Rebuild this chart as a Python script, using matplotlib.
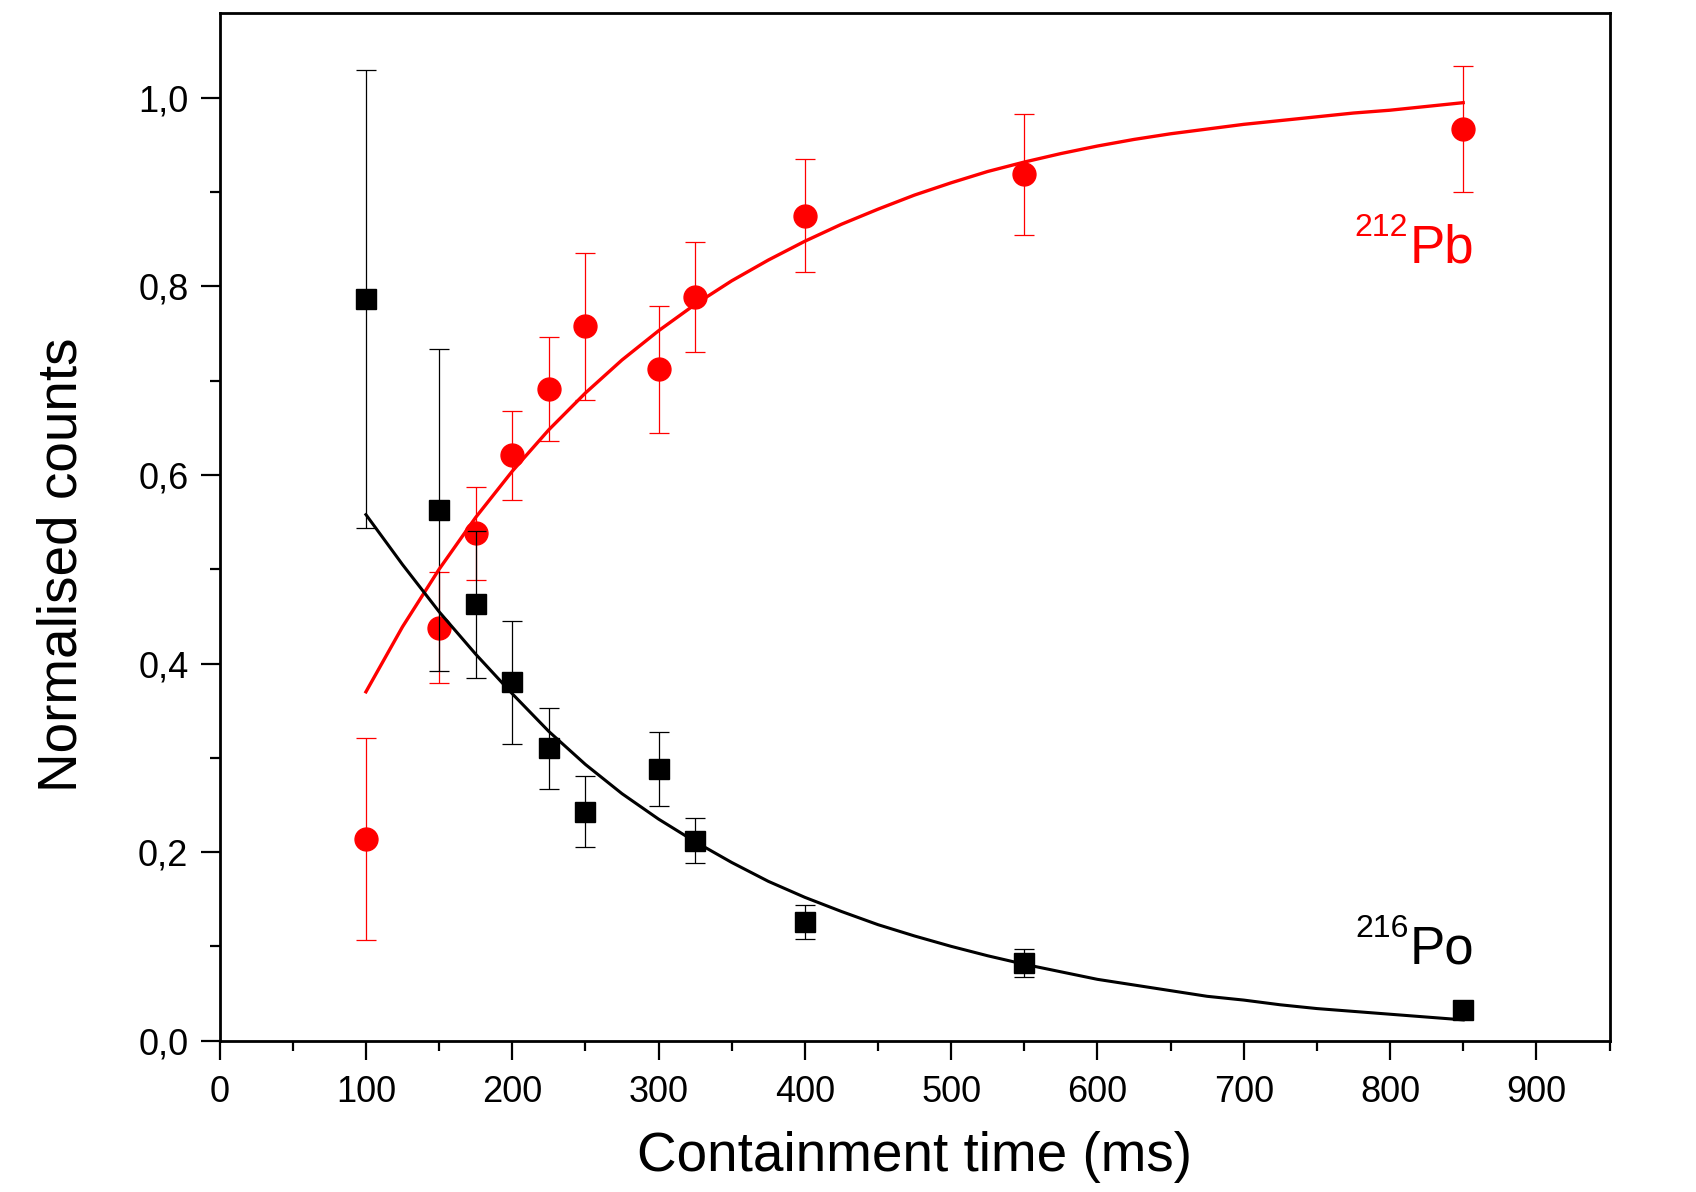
import matplotlib
matplotlib.use("Agg")
import matplotlib.pyplot as plt
from matplotlib.ticker import MultipleLocator, FuncFormatter

plt.rcParams['font.family'] = ['Liberation Sans', 'DejaVu Sans']

# measured points (containment time in ms)
pb_x = [100, 150, 175, 200, 225, 250, 300, 325, 400, 550, 850]
pb_y = [0.214, 0.438, 0.538, 0.621, 0.691, 0.758, 0.712, 0.789, 0.875, 0.919, 0.967]
pb_err = [0.107, 0.059, 0.049, 0.047, 0.055, 0.078, 0.067, 0.058, 0.060, 0.064, 0.067]

po_x = [100, 150, 175, 200, 225, 250, 300, 325, 400, 550, 850]
po_y = [0.787, 0.563, 0.463, 0.380, 0.310, 0.243, 0.288, 0.212, 0.126, 0.082, 0.033]
po_err = [0.243, 0.171, 0.078, 0.065, 0.043, 0.038, 0.039, 0.024, 0.018, 0.015, 0.005]

# fitted curves, every 25 ms
fit_x = [100, 125, 150, 175, 200, 225, 250, 275, 300, 325, 350, 375, 400, 425,
         450, 475, 500, 525, 550, 575, 600, 625, 650, 675, 700, 725, 750, 775,
         800, 825, 850]
pb_fit = [0.370, 0.439, 0.500, 0.555, 0.604, 0.648, 0.687, 0.722, 0.753, 0.781,
          0.806, 0.828, 0.848, 0.866, 0.882, 0.897, 0.910, 0.922, 0.932, 0.941,
          0.949, 0.956, 0.962, 0.967, 0.972, 0.976, 0.980, 0.984, 0.987, 0.991,
          0.995]
po_fit = [0.558, 0.505, 0.455, 0.410, 0.368, 0.328, 0.293, 0.262, 0.235, 0.211,
          0.189, 0.169, 0.152, 0.137, 0.123, 0.111, 0.100, 0.090, 0.081, 0.073,
          0.065, 0.059, 0.053, 0.047, 0.043, 0.038, 0.034, 0.031, 0.028, 0.025,
          0.022]

fig = plt.figure(figsize=(16.96, 11.92), dpi=100)
ax = fig.add_axes([0.1295, 0.127, 0.8195, 0.862])

ax.errorbar(pb_x, pb_y, yerr=pb_err, fmt='o', color='#ff0000', ms=16.5,
            elinewidth=0.9, capsize=7.5, capthick=0.9, zorder=2)
ax.errorbar(po_x, po_y, yerr=po_err, fmt='s', color='black', ms=14.5,
            elinewidth=0.9, capsize=7.5, capthick=0.9, zorder=3)
ax.plot(fit_x, pb_fit, color='#ff0000', lw=2.4, zorder=4)
ax.plot(fit_x, po_fit, color='black', lw=2.2, zorder=4)

ax.set_xlim(0, 950)
ax.set_ylim(0, 1.09)
ax.xaxis.set_major_locator(MultipleLocator(100))
ax.xaxis.set_minor_locator(MultipleLocator(50))
ax.yaxis.set_major_locator(MultipleLocator(0.2))
ax.yaxis.set_minor_locator(MultipleLocator(0.1))
ax.yaxis.set_major_formatter(FuncFormatter(lambda v, p: f"{v:.1f}".replace('.', ',')))

ax.tick_params(which='both', direction='out', top=False, right=False, width=1.6)
ax.tick_params(which='major', length=13.5, labelsize=26)
ax.tick_params(axis='x', which='major', pad=11)
ax.tick_params(axis='y', which='major', pad=9)
ax.tick_params(which='minor', length=7)
for s in ax.spines.values():
    s.set_linewidth(2.0)

fig.text(0.539, 0.029, 'Containment time (ms)', fontsize=39.5, ha='center', va='center')
fig.text(0.0366, 0.526, 'Normalised counts', fontsize=39.5, ha='center', va='center',
         rotation=90)

ax.text(812.5, 0.854, '212', fontsize=23, color='#ff0000', ha='right', va='baseline')
ax.text(813.5, 0.8255, 'Pb', fontsize=38, color='#ff0000', ha='left', va='baseline')
ax.text(812.5, 0.110, '216', fontsize=23, color='black', ha='right', va='baseline')
ax.text(813.5, 0.0815, 'Po', fontsize=38, color='black', ha='left', va='baseline')

fig.savefig("out.png", dpi=100)
